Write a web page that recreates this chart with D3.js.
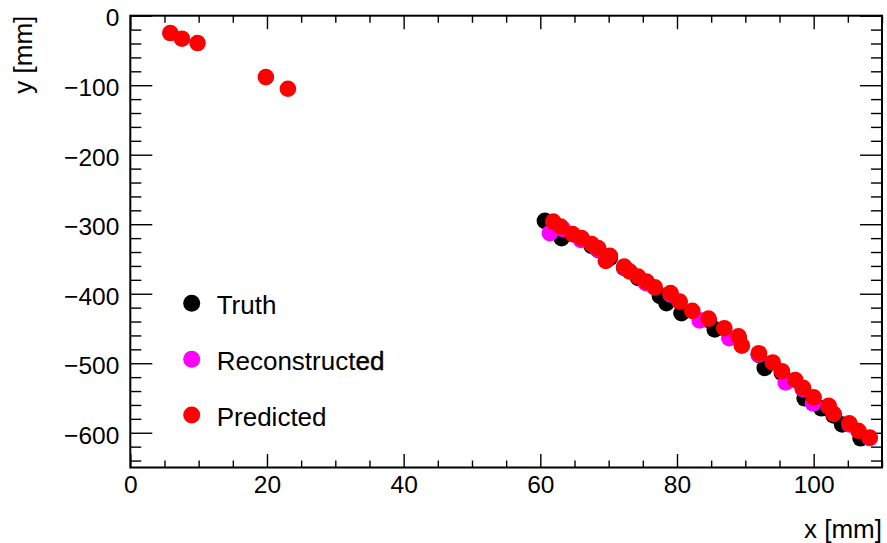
<!DOCTYPE html>
<html>
<head>
<meta charset="utf-8">
<script src="https://cdn.jsdelivr.net/npm/d3@7"></script>
<style>
  html, body { margin: 0; padding: 0; background: #fff; }
  svg { display: block; font-family: "Liberation Sans", Arial, Helvetica, sans-serif; }
</style>
</head>
<body>
<svg id="chart" width="887" height="543"></svg>
<script>
// ---- data ----
const predX = [5.85, 7.56, 9.84, 19.84, 23.06,
  61.89, 62.97, 64.72, 66.04, 67.50, 68.46, 70.18, 69.59, 72.27, 73.10, 74.31, 75.54, 76.75,
  79.05, 80.41, 82.24, 84.62, 86.92, 89.01, 89.50, 91.99, 94.01, 95.35, 97.30, 98.44, 100.0,
  102.19, 102.92, 105.22, 106.55, 108.19];
const predY = [-24.9, -33.1, -39.3, -88.3, -105.1,
  -296.1, -303.3, -314.3, -320.0, -328.7, -334.4, -345.5, -352.7, -360.9, -368.1, -375.3, -382.5, -390.9,
  -399.2, -411.3, -424.7, -435.8, -449.6, -461.4, -474.8, -485.6, -498.9, -511.5, -524.1, -535.3, -549.0,
  -561.2, -573.0, -586.4, -597.2, -606.8];

const truthX = [60.67, 63.11, 67.50, 68.46, 70.18, 72.27, 74.31, 75.54, 77.49, 78.46, 80.66, 84.62,
  85.53, 89.01, 91.99, 92.84, 95.35, 98.44, 98.68, 101.13, 102.92, 104.17, 106.87];
const truthY = [-295.1, -320.0, -331.1, -336.9, -348.4, -362.8, -377.2, -384.4, -403.1, -413.6, -428.0, -437.7,
  -451.3, -463.6, -488.1, -506.8, -514.0, -537.0, -550.4, -564.8, -575.1, -588.1, -608.0];

const recoX = [61.40, 63.30, 65.94, 68.42, 72.37, 75.44, 79.09, 83.33, 87.65, 91.96, 95.91, 98.39,
  99.90, 102.19, 105.26, 108.19];
const recoY = [-312.8, -306.7, -322.5, -336.2, -362.8, -384.4, -401.0, -438.4, -464.0, -487.3, -527.7, -537.0,
  -557.6, -562.2, -588.1, -607.6];

const xMajorTicks = [0, 20, 40, 60, 80, 100];
const yMajorTicks = [0, -100, -200, -300, -400, -500, -600];
const xDomain = [0, 110];
const yDomain = [-650, 0];
const xTitle = "x [mm]";
const yTitle = "y [mm]";
const legendLabels = ["Truth", "Reconstructed", "Predicted"];
const seriesColors = ["#000000", "#ff00ff", "#ff0000"];

// ---- layout ----
const svg = d3.select("#chart");
const L = 130.3, R = 882, T = 15.7, B = 467.5;
const x = d3.scaleLinear().domain(xDomain).range([L, R]);
const y = d3.scaleLinear().domain(yDomain).range([B, T]);

const xMinorTicks = d3.range(0, 110.001, 5).filter(v => !xMajorTicks.includes(v));
const yMinorTicks = d3.range(0, -650, -20).filter(v => !yMajorTicks.includes(v));
const fmt = d => d < 0 ? "\u2212" + Math.abs(d) : String(d);

function styleAxis(g) {
  g.select(".domain").remove();
  g.selectAll(".tick line").attr("stroke", "#000").attr("stroke-width", 1.4);
  g.selectAll("text").attr("fill", "#000").style("font-size", "24.5px")
    .style("font-family", "'Liberation Sans', Arial, sans-serif");
}

// bottom
svg.append("g").attr("transform", `translate(0,${B})`)
  .call(d3.axisBottom(x).tickValues(xMajorTicks).tickSizeInner(-13.5).tickSizeOuter(0).tickPadding(8).tickFormat(fmt))
  .call(styleAxis);
svg.append("g").attr("transform", `translate(0,${B})`)
  .call(d3.axisBottom(x).tickValues(xMinorTicks).tickSizeInner(-7).tickSizeOuter(0).tickFormat(""))
  .call(styleAxis);
// top
svg.append("g").attr("transform", `translate(0,${T})`)
  .call(d3.axisTop(x).tickValues(xMajorTicks).tickSizeInner(-13.5).tickSizeOuter(0).tickFormat(""))
  .call(styleAxis);
svg.append("g").attr("transform", `translate(0,${T})`)
  .call(d3.axisTop(x).tickValues(xMinorTicks).tickSizeInner(-7).tickSizeOuter(0).tickFormat(""))
  .call(styleAxis);
// left
const gl = svg.append("g").attr("transform", `translate(${L},0)`)
  .call(d3.axisLeft(y).tickValues(yMajorTicks).tickSizeInner(-22).tickSizeOuter(0).tickPadding(11).tickFormat(fmt))
  .call(styleAxis);
gl.selectAll("text").attr("dy", "0.42em");
svg.append("g").attr("transform", `translate(${L},0)`)
  .call(d3.axisLeft(y).tickValues(yMinorTicks).tickSizeInner(-11).tickSizeOuter(0).tickFormat(""))
  .call(styleAxis);
// right
svg.append("g").attr("transform", `translate(${R},0)`)
  .call(d3.axisRight(y).tickValues(yMajorTicks).tickSizeInner(-22).tickSizeOuter(0).tickFormat(""))
  .call(styleAxis);
svg.append("g").attr("transform", `translate(${R},0)`)
  .call(d3.axisRight(y).tickValues(yMinorTicks).tickSizeInner(-11).tickSizeOuter(0).tickFormat(""))
  .call(styleAxis);

// frame
svg.append("rect").attr("x", L).attr("y", T).attr("width", R - L).attr("height", B - T)
  .attr("fill", "none").attr("stroke", "#000").attr("stroke-width", 2);

// axis titles
svg.append("text").attr("x", R).attr("y", 537.5).attr("text-anchor", "end")
  .style("font-size", "26px").attr("fill", "#000").text(xTitle);
svg.append("text").attr("transform", `translate(32,${T}) rotate(-90)`).attr("text-anchor", "end")
  .style("font-size", "26px").attr("fill", "#000").text(yTitle);

// markers
const MR = 8.3;
const series = [
  { xs: truthX, ys: truthY, color: seriesColors[0] },
  { xs: recoX, ys: recoY, color: seriesColors[1] },
  { xs: predX, ys: predY, color: seriesColors[2] }
];
const plot = svg.append("g");
series.forEach(s => {
  plot.append("g").selectAll("circle").data(d3.range(s.xs.length)).join("circle")
    .attr("cx", i => x(s.xs[i])).attr("cy", i => y(s.ys[i])).attr("r", MR).attr("fill", s.color);
});

// legend
const legendY = [303.3, 359.3, 415];
const lg = svg.append("g");
legendLabels.forEach((lab, i) => {
  lg.append("circle").attr("cx", 191.7).attr("cy", legendY[i]).attr("r", 8.5).attr("fill", seriesColors[i]);
  const t = lg.append("text").attr("x", 216.7).attr("y", legendY[i] + 10.5)
    .style("font-size", "26px").attr("fill", "#000");
  if (lab === "Reconstructed") {
    t.append("tspan").text(lab.slice(0, -2));
    t.append("tspan").attr("stroke", "#000").attr("stroke-width", 0.45).text(lab.slice(-2));
  } else {
    t.text(lab);
  }
});
</script>
</body>
</html>
